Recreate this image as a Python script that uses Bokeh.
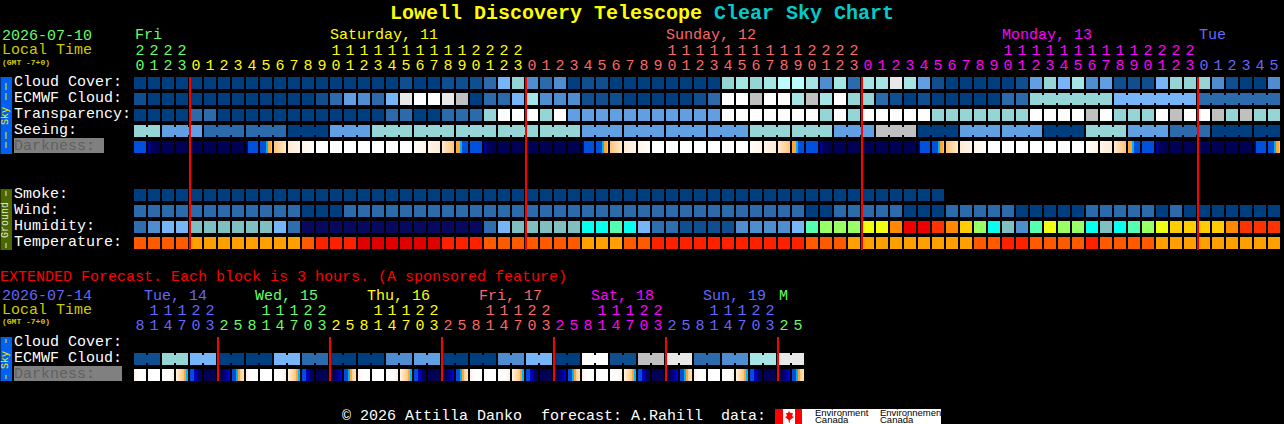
import math
from bokeh.plotting import figure
from bokeh.embed import file_html
from bokeh.resources import INLINE
from bokeh.core.properties import value

# ---------- data ----------
title_main = "Lowell Discovery Telescope"
title_tail = "Clear Sky Chart"
row_labels = ["Cloud Cover:", "ECMWF Cloud:", "Transparency:", "Seeing:"]
ground_labels = ["Smoke:", "Wind:", "Humidity:", "Temperature:"]

hours = [20,21,22,23,
         0,1,2,3,4,5,6,7,8,9,10,11,12,13,14,15,16,17,18,19,20,21,22,23,
         0,1,2,3,4,5,6,7,8,9,10,11,12,13,14,15,16,17,18,19,20,21,22,23,
         0,1,2,3,4,5,6,7,8,9,10,11,12,13,14,15,16,17,18,19,20,21,22,23,
         0,1,2,3,4,5]
hour_day = [0]*4 + [1]*24 + [2]*24 + [3]*24 + [4]*6
day_colors = ["#66ff66", "#ffff00", "#ff6666", "#ff00ff", "#6666ff"]
day_names = ["Fri", "Saturday, 11", "Sunday, 12", "Monday, 13", "Tue"]

cloud_cover = [0,0,0,0,0,0,0,0,0,0,
               0,0,0,0,0,0,0,0,0,1,
               0,0,1,1,1,2,5,6,3,2,
               3,0,1,1,0,0,0,0,0,0,
               0,0,6,7,6,7,8,8,7,3,
               7,2,7,7,10,7,4,1,0,0,
               0,0,0,1,4,6,5,7,3,4,
               1,1,1,5,6,6,6,3,1,0,
               0,3]
ecmwf_cloud = [1,0,0,0,0,0,0,0,0,0,
               0,0,0,1,2,4,3,2,5,10,
               11,11,10,9,0,2,2,5,7,3,
               3,3,1,1,1,0,0,0,0,0,
               1,2,11,11,9,11,11,7,9,7,
               11,6,6,2,1,0,1,0,0,0,
               0,0,2,2,6,6,6,6,6,6,
               5,5,5,5,5,5,2,2,2,2,
               2,2]
ecmwf_joined_from = 64
ecmwf_group = 6
transparency = [0,0,0,0,2,2,0,0,0,0,
                0,0,0,0,0,0,0,0,2,2,
                0,0,2,2,2,6,11,11,11,6,
                11,4,4,4,4,4,4,4,4,4,
                4,4,11,11,11,11,11,11,11,6,
                11,6,11,11,11,11,11,6,6,6,
                6,6,6,6,11,11,11,11,9,11,
                6,6,6,11,9,11,11,9,6,9,
                6,6]
seeing_sizes = [2] + [3]*26 + [2]
seeing_blocks = [6,4,2,2,0,4,6,6,6,6,6,4,4,4,4,6,6,4,9,0,4,4,0,6,4,2,0,0]
darkness = ("B D N N N N N N U R a b c W W W W W W W c2 b2 a2 S "
            "B D N N N N N N U R a b c W W W W W W W c2 b2 a2 S "
            "B D N N N N N N U R a b c W W W W W W W c2 b2 a2 S "
            "B D N N N N N N U R").split()

smoke = [0]*58
wind = [1,1,1,1,1,1,1,1,1,1,
        1,1,0,0,0,1,1,1,1,1,
        1,1,1,1,1,1,1,1,1,1,
        1,1,1,1,1,1,1,1,1,1,
        1,1,1,1,1,1,1,1,0,0,
        1,1,1,1,1,0,0,0,1,1,
        1,1,1,0,0,0,0,0,1,1,
        1,1,1,0,1,0,0,0,0,0,
        0,0]
humidity = [2,3,4,4,5,5,5,5,5,5,
            4,2,0,0,0,0,0,0,0,0,
            0,0,0,0,0,2,4,5,5,5,
            5,5,6,6,7,6,4,2,2,1,
            1,1,1,3,3,3,3,4,7,8,
            8,8,9,9,11,13,13,12,11,10,
            8,6,5,3,7,9,8,8,6,5,
            6,7,8,9,10,10,10,10,11,12,
            12,12]
temperature = [1,1,1,1,0,0,0,0,0,0,
               0,0,1,2,2,2,3,3,3,3,
               3,3,2,2,2,1,1,1,1,1,
               1,1,0,0,0,1,1,2,2,2,
               2,2,2,2,2,2,2,2,1,1,
               1,0,0,0,0,0,0,0,0,0,
               1,1,2,2,1,1,1,1,2,1,
               1,1,1,0,0,0,0,0,0,0,
               0,0]

ext_hours = [8,11,14,17,20,23,
             2,5,8,11,14,17,20,23,
             2,5,8,11,14,17,20,23,
             2,5,8,11,14,17,20,23,
             2,5,8,11,14,17,20,23,
             2,5,8,11,14,17,20,23,
             2,5]
ext_day = [4]*6 + [0]*8 + [1]*8 + [2]*8 + [3]*8 + [4]*8 + [0]*2
ext_day_names = ["Tue, 14", "Wed, 15", "Thu, 16", "Fri, 17", "Sat, 18", "Sun, 19", "M"]
ext_day_colors = ["#6666ff", "#66ff66", "#ffff00", "#ff6666", "#ff00ff", "#6666ff", "#66ff66"]
ext_ecmwf_blocks = [1,6,5,0,0,5,2,0,0,3,4,0,0,3,5,0,11,1,9,10,2,3,7,10]
ext_darkness = ("p W q X Y N Z V "*6).split()

# ---------- palettes ----------
CLOUD = ["#003f7f","#0f4f8f","#2b6bab","#4d8dd0","#5f9fe2","#75b5f8",
         "#95d5d5","#a5e5e5","#bbfbfb","#c0c0c0","#e8e8e8","#ffffff"]
HUMID = ["#08085f","#0f4f8f","#2e6eaf","#4d8dd0","#75b5f8","#80bfbf",
         "#08fff0","#55ffb0","#99ff66","#eeff11","#ffcc00","#ff8800","#ff3300","#ee0000"]
TEMP = ["#ffa000","#ff5a00","#ff2000","#e00000"]
WIND = ["#003f7f","#2b6bab"]

N_, B_, C_, O_ = "#000055", "#0050dd", "#00b0ff", "#ffa530"
PATTERN_STOPS = {
    "N": [(0,N_),(11,N_)], "B": [(0,B_),(11,B_)], "W": [(0,"#ffffff"),(11,"#ffffff")],
    "D": [(0,"#0000a0"),(2,"#000080"),(4,N_),(11,N_)],
    "U": [(0,N_),(1,"#0000a0"),(2,B_),(11,B_)],
    "R": [(0,B_),(5,B_),(6,C_),(7,C_),(8,O_),(10,O_),(11,"#ffc070")],
    "a": [(0,"#ffc47c"),(11,"#ffe8cc")], "b": [(0,"#ffecd4"),(11,"#fff4e6")],
    "c": [(0,"#fff6ea"),(11,"#fffcf8")], "c2": [(0,"#fffcf8"),(11,"#fff6ea")],
    "b2": [(0,"#fff4e6"),(11,"#ffecd4")], "a2": [(0,"#ffe8cc"),(11,"#ffc47c")],
    "S": [(0,O_),(3,O_),(4,C_),(5,C_),(6,B_),(11,B_)],
    "p": [(0,"#fff4e6"),(5,"#ffffff"),(11,"#ffffff")],
    "q": [(0,"#ffffff"),(6,"#ffffff"),(11,"#fff0e0")],
    "X": [(0,"#fff0dc"),(7,"#ffc880"),(8,O_),(9,O_),(10,C_),(11,C_)],
    "Y": [(0,B_),(3,B_),(4,"#0000c0"),(6,"#0000c0"),(8,N_),(11,N_)],
    "Z": [(0,N_),(4,N_),(5,"#00007a"),(7,"#00007a"),(8,"#0000a0"),(9,"#0000a0"),(10,"#0000d0"),(11,"#0000d0")],
    "V": [(0,B_),(3,B_),(4,C_),(5,C_),(6,O_),(7,O_),(8,"#ffd090"),(11,"#ffe0b8")],
}

def lerp_stops(stops):
    out = []
    for px in range(12):
        for (a, ca), (b, cb) in zip(stops, stops[1:]):
            if a <= px <= b:
                t = 0 if b == a else (px - a) / (b - a)
                ch = [round(int(ca[k:k+2], 16) * (1-t) + int(cb[k:k+2], 16) * t) for k in (1, 3, 5)]
                out.append("#%02x%02x%02x" % tuple(ch))
                break
    return out
PATTERNS = {k: lerp_stops(v) for k, v in PATTERN_STOPS.items()}

# ---------- layout ----------
W, H = 1284, 424
X0, STEP, CELL = 134, 14, 12
MAIN_ROWS = [77, 93, 109, 125, 141]
GROUND_ROWS = [189, 205, 221, 237]
EXT_ROWS = [337, 353, 369]
MONO = value("Liberation Mono")
SANS = value("Liberation Sans")

# ranges shifted half a pixel: the canvas translates by 0.5 for crisp lines
p = figure(width=W, height=H, x_range=(0.5, W + 0.5), y_range=(H + 0.5, 0.5), output_backend="svg",
           toolbar_location=None, min_border=0,
           background_fill_color="#000000", border_fill_color="#000000", outline_line_color=None,
           styles={"background-color": "#000000"})
p.xaxis.visible = False
p.yaxis.visible = False
p.grid.visible = False

def cells(values, palette, top):
    xs = [X0 + STEP * i for i in range(len(values))]
    p.quad(left=xs, right=[x + CELL for x in xs], top=[top] * len(xs), bottom=[top + CELL] * len(xs),
           fill_color=[palette[v] for v in values], line_color=None)

def joints(indices, color_values, palette, top):
    xs = [X0 + STEP * i + CELL for i in indices]
    p.quad(left=xs, right=[x + STEP - CELL for x in xs], top=[top + 2] * len(xs), bottom=[top + CELL - 2] * len(xs),
           fill_color=[palette[color_values[i]] for i in indices], line_color=None)

def expand(sizes, blocks):
    vals, inner = [], []
    for s, b in zip(sizes, blocks):
        start = len(vals)
        vals += [b] * s
        inner += list(range(start, start + s - 1))
    return vals, inner

def dark_strip(tokens, top):
    ls, rs, cs = [], [], []
    for i, tok in enumerate(tokens):
        for px, c in enumerate(PATTERNS[tok]):
            x = X0 + STEP * i + px
            ls.append(x)
            rs.append(x + (2 if px < 11 else 1))   # overlap hides seams between strips
            cs.append(c)
    p.quad(left=ls, right=rs, top=[top] * len(ls), bottom=[top + CELL] * len(ls),
           fill_color=cs, line_color=None)

BASE_SHIFT = 0.33   # the SVG text sits this many em below the requested baseline

def txt(x, y, s, color, size=15, font=MONO, style="normal", align="left", angle=0):
    if angle:
        x -= BASE_SHIFT * size
    else:
        y -= BASE_SHIFT * size
    p.text(x=[x], y=[y], text=[s], text_color=color, text_font=font, text_font_size="%gpx" % size,
           text_font_style=style, text_align=align, text_baseline="alphabetic", angle=angle)

# tabs
p.quad(left=[0, 0, 0], right=[12, 12, 12], top=[77, 189, 337], bottom=[154, 250, 381],
       fill_color=["#0060f0", "#4c6600", "#0060f0"], line_color=None)
p.quad(left=[14, 14], right=[104, 122], top=[138, 366], bottom=[153, 381],
       fill_color="#808080", line_color=None)

# main grid
cells(cloud_cover, CLOUD, MAIN_ROWS[0])
cells(ecmwf_cloud, CLOUD, MAIN_ROWS[1])
joints([i for i in range(ecmwf_joined_from, len(ecmwf_cloud) - 1)
        if (i - ecmwf_joined_from) % ecmwf_group != ecmwf_group - 1],
       ecmwf_cloud, CLOUD, MAIN_ROWS[1])
cells(transparency, CLOUD, MAIN_ROWS[2])
seeing, seeing_inner = expand(seeing_sizes, seeing_blocks)
cells(seeing, CLOUD, MAIN_ROWS[3])
joints(seeing_inner, seeing, CLOUD, MAIN_ROWS[3])
dark_strip(darkness, MAIN_ROWS[4])

cells(smoke, CLOUD, GROUND_ROWS[0])
cells(wind, WIND, GROUND_ROWS[1])
cells(humidity, HUMID, GROUND_ROWS[2])
cells(temperature, TEMP, GROUND_ROWS[3])

# extended grid
ext_ecmwf, ext_inner = expand([2] * len(ext_ecmwf_blocks), ext_ecmwf_blocks)
cells(ext_ecmwf, CLOUD, EXT_ROWS[1])
joints(ext_inner, ext_ecmwf, CLOUD, EXT_ROWS[1])
dark_strip(ext_darkness, EXT_ROWS[2])

# midnight lines
midnights = [i for i in range(1, len(hours)) if hours[i] == 0]
for i in midnights:
    x = X0 + STEP * i - 1
    p.quad(left=[x], right=[x + 2], top=[77], bottom=[250], fill_color="#ff0000", line_color=None)
ext_midnights = [i for i in range(1, len(ext_hours)) if ext_hours[i] < ext_hours[i - 1]]
for i in ext_midnights:
    x = X0 + STEP * i - 1
    p.quad(left=[x], right=[x + 2], top=[337], bottom=[381], fill_color="#ff0000", line_color=None)

# title
txt(390, 20, title_main, "#ffff00", 20, style="bold")
txt(714, 20, title_tail, "#00cccc", 20, style="bold")

# header main
txt(2, 40, "2026-07-10", "#66ff66")
txt(2, 55, "Local Time", "#cccc00")
txt(2, 65, "(GMT -7+0)", "#cccc00", 8, style="bold")
for x, name, c in zip([135, 330, 666, 1002, 1199], day_names, day_colors):
    txt(x, 40, name, c)
for i, h in enumerate(hours):
    x = X0 + STEP * i + 6
    if h >= 10:
        txt(x, 55, str(h // 10), day_colors[hour_day[i]], align="center")
    txt(x, 70, str(h % 10), day_colors[hour_day[i]], align="center")

# labels
for y, s in zip(MAIN_ROWS, row_labels):
    txt(14, y + 10, s, "#ffffff")
txt(14, MAIN_ROWS[4] + 10, "Darkness:", "#606060")
for y, s in zip(GROUND_ROWS, ground_labels):
    txt(14, y + 10, s, "#ffffff")

# extended header
txt(0, 282, "EXTENDED Forecast. Each block is 3 hours. (A sponsored feature)", "#ff0000")
txt(2, 300, "2026-07-14", "#6666ff")
txt(2, 315, "Local Time", "#cccc00")
txt(2, 324, "(GMT -7+0)", "#cccc00", 8, style="bold")
for x, name, c in zip([144, 255, 367, 479, 591, 703, 779], ext_day_names, ext_day_colors):
    txt(x, 301, name, c)
for i, h in enumerate(ext_hours):
    x = X0 + STEP * i + 6
    c = day_colors[ext_day[i]]
    if h >= 10:
        txt(x, 315, str(h // 10), c, align="center")
    txt(x, 330, str(h % 10), c, align="center")
txt(14, EXT_ROWS[0] + 10, "Cloud Cover:", "#ffffff")
txt(14, EXT_ROWS[1] + 10, "ECMWF Cloud:", "#ffffff")
txt(14, EXT_ROWS[2] + 10, "Darkness:", "#606060")

# tab texts
up = math.pi / 2
txt(9, 116, "Sky", "#ffee00", 10, align="center", angle=up)
txt(9, 220, "Ground", "#e8e8d0", 10, align="center", angle=up)
txt(9, 360, "Sky", "#ffee00", 10, align="center", angle=up)
p.segment(x0=[6] * 4, x1=[6] * 4, y0=[83, 93, 132, 142], y1=[90, 100, 139, 148], line_color="#ffee00", line_width=1)
p.segment(x0=[6] * 2, x1=[6] * 2, y0=[191, 243], y1=[196, 248], line_color="#e8e8d0", line_width=1)
p.segment(x0=[6] * 2, x1=[6] * 2, y0=[339, 375], y1=[343, 379], line_color="#ffee00", line_width=1)

# footer
txt(342, 421, "\u00a9 2026 Attilla Danko", "#ffffff")
txt(541, 421, "forecast: A.Rahill", "#ffffff")
txt(721, 421, "data:", "#ffffff")
p.quad(left=[775], right=[941], top=[409], bottom=[424], fill_color="#ffffff", line_color=None)
p.quad(left=[775, 795], right=[783, 802], top=[409, 409], bottom=[424, 424], fill_color="#ff0000", line_color=None)
p.patch(x=[789, 790.5, 793, 792, 794, 790, 789.5, 789, 788.5, 785, 787, 786, 788], y=[411, 413, 413, 416, 417, 420, 423, 423, 420, 417, 416, 413, 413],
        fill_color="#ff0000", line_color=None)
txt(815, 416, "Environment", "#000000", 9.5, SANS)
txt(815, 423, "Canada", "#000000", 9.5, SANS)
txt(880, 416, "Environnement", "#000000", 9.5, SANS)
txt(880, 423, "Canada", "#000000", 9.5, SANS)

open("out.html", "w").write(file_html(p, INLINE))
